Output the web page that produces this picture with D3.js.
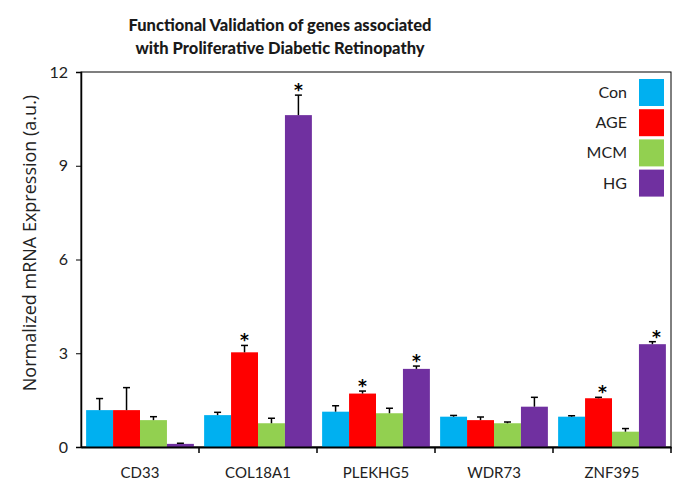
<!DOCTYPE html>
<html><head><meta charset="utf-8">
<script src="https://cdn.jsdelivr.net/npm/d3@7"></script>
<style>body{margin:0;background:#fff;}svg{display:block;font-family:Lato,"Open Sans",sans-serif;}</style>
</head><body><svg id="c" width="685" height="489"></svg>
<script>
const categories = ["CD33","COL18A1","PLEKHG5","WDR73","ZNF395"];
const seriesNames = ["Con","AGE","MCM","HG"];
const seriesColors = ["#00b0f0","#ff0000","#92d050","#7030a0"];
const conVals = [1.18,1.02,1.13,0.97,0.97];
const ageVals = [1.18,3.03,1.71,0.86,1.56];
const mcmVals = [0.86,0.76,1.08,0.76,0.49];
const hgVals  = [0.10,10.62,2.50,1.29,3.29];
const conErr = [0.37,0.09,0.19,0.04,0.03];
const ageErr = [0.72,0.22,0.08,0.10,0.03];
const mcmErr = [0.11,0.16,0.16,0.04,0.10];
const hgErr  = [0.02,0.64,0.09,0.30,0.08];
const conSig = [0,0,0,0,0];
const ageSig = [0,1,1,0,1];
const mcmSig = [0,0,0,0,0];
const hgSig  = [0,1,1,0,1];
const yTicks = [0,3,6,9,12];
const titleLines = ["Functional Validation of genes associated","with Proliferative Diabetic Retinopathy"];
const yLabel = "Normalized mRNA Expression (a.u.)";

const vals=[conVals,ageVals,mcmVals,hgVals], errs=[conErr,ageErr,mcmErr,hgErr], sigs=[conSig,ageSig,mcmSig,hgSig];
const svg=d3.select("#c");
const L=81,R=671,T=72,B=447;
const x=d3.scaleBand().domain(categories).range([L,R]).paddingInner(0).paddingOuter(0);
const xs=d3.scaleBand().domain(seriesNames).range([0,x.bandwidth()]).paddingOuter(0.19).paddingInner(0);
const y=d3.scaleLinear().domain([0,12]).range([B,T]);

// title
svg.append("g").selectAll("text").data(titleLines).join("text")
 .attr("x",280).attr("y",(d,i)=>31+i*23).attr("text-anchor","middle")
 .attr("font-weight",900).attr("font-size",16.5).attr("fill","#1a1a1a").text(d=>d);

// frame
svg.append("rect").attr("x",L).attr("y",T).attr("width",R-L).attr("height",B-T).attr("fill","none").attr("stroke","#000").attr("stroke-width",1);

// bars
const data=[];
categories.forEach((c,ci)=>seriesNames.forEach((s,si)=>data.push({c,s,si,v:vals[si][ci],e:errs[si][ci],sig:sigs[si][ci]})));
const g=svg.append("g");
g.selectAll("rect.bar").data(data).join("rect").attr("class","bar")
 .attr("x",d=>x(d.c)+xs(d.s)).attr("width",xs.bandwidth())
 .attr("y",d=>y(d.v)).attr("height",d=>y(0)-y(d.v)).attr("fill",d=>seriesColors[d.si]);
// error bars
const eg=g.selectAll("g.err").data(data).join("g").attr("class","err");
eg.append("line").attr("x1",d=>x(d.c)+xs(d.s)+xs.bandwidth()/2).attr("x2",d=>x(d.c)+xs(d.s)+xs.bandwidth()/2)
 .attr("y1",d=>y(d.v)).attr("y2",d=>y(d.v+d.e)).attr("stroke","#000").attr("stroke-width",1.5);
eg.append("line").attr("x1",d=>x(d.c)+xs(d.s)+xs.bandwidth()/2-3.5).attr("x2",d=>x(d.c)+xs(d.s)+xs.bandwidth()/2+3.5)
 .attr("y1",d=>y(d.v+d.e)).attr("y2",d=>y(d.v+d.e)).attr("stroke","#000").attr("stroke-width",1.5);
// stars
g.selectAll("text.star").data(data.filter(d=>d.sig)).join("text").attr("class","star")
 .attr("x",d=>x(d.c)+xs(d.s)+xs.bandwidth()/2+(d.c==="ZNF395"?4:0)).attr("y",d=>y(d.v+d.e)+1)
 .attr("text-anchor","middle").attr("font-size",17).attr("font-weight","bold").attr("font-family","'DejaVu Sans',sans-serif").attr("fill","#000").text("*");

// y axis
const ya=svg.append("g").attr("transform",`translate(${L},0)`).call(d3.axisLeft(y).tickValues(yTicks).tickSize(5).tickPadding(8));
ya.select(".domain").attr("stroke-width",1.5);
ya.selectAll("text").attr("font-size",16).attr("font-family","Lato,sans-serif").attr("fill","#222");
// x axis
const xa=svg.append("g").attr("transform",`translate(0,${B})`).call(d3.axisBottom(x).tickSize(0).tickPadding(20));
xa.select(".domain").attr("stroke-width",2);
xa.selectAll("text").attr("font-size",15).attr("font-family","Lato,sans-serif").attr("fill","#222");
svg.append("g").selectAll("line").data(categories.slice(1).concat(["end"])).join("line")
 .attr("x1",(d,i)=>x(categories[i])+x.bandwidth()).attr("x2",(d,i)=>x(categories[i])+x.bandwidth())
 .attr("y1",B).attr("y2",B+6).attr("stroke","#000").attr("stroke-width",1.5);

// y label
svg.append("text").attr("transform",`translate(36,243) rotate(-90)`).attr("text-anchor","middle")
 .attr("font-size",18).attr("font-family","'Open Sans',sans-serif").attr("fill","#222").text(yLabel);

// legend
const lg=svg.append("g").selectAll("g").data(seriesNames).join("g").attr("transform",(d,i)=>`translate(0,${79+i*30.2})`);
lg.append("rect").attr("x",639).attr("width",25).attr("height",27).attr("fill",(d,i)=>seriesColors[i]);
lg.append("text").attr("x",627).attr("y",19).attr("text-anchor","end").attr("font-size",16).attr("fill","#222").text(d=>d);
</script></body></html>
